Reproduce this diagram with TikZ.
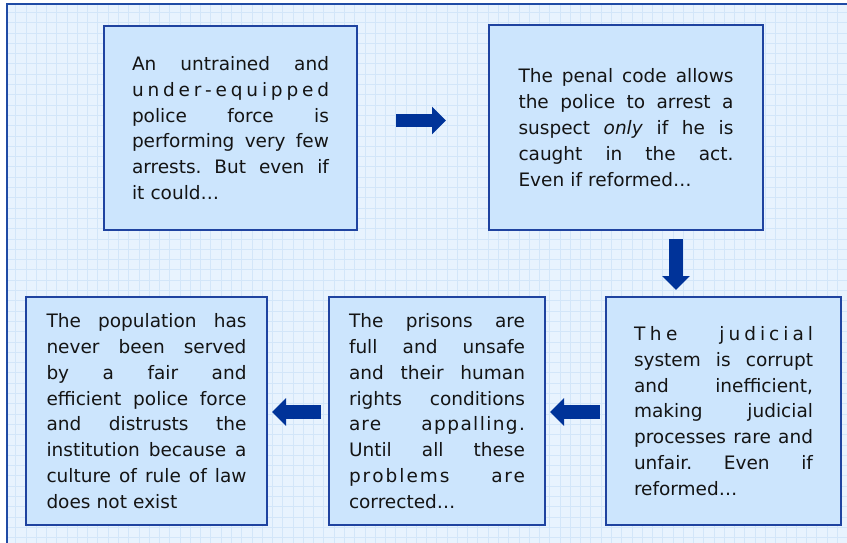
\documentclass[tikz,border=0pt]{standalone}
\usepackage{fontspec}
\setmainfont{DejaVu Sans}
\usetikzlibrary{arrows.meta}
\definecolor{bgblue}{HTML}{E8F3FE}
\definecolor{gridblue}{HTML}{D3E6F9}
\definecolor{boxfill}{HTML}{CCE5FD}
\definecolor{boxline}{HTML}{1F43A0}
\definecolor{arrowblue}{HTML}{003399}
\definecolor{framec}{HTML}{1F4BA5}
\definecolor{txt}{HTML}{141414}
\frenchspacing
\newcommand\jline[1]{\makebox[\linewidth][s]{\spaceskip=0pt \xspaceskip=0pt #1}}
\begin{document}
\begin{tikzpicture}[x=1pt,y=-1pt,
  box/.style={draw=boxline, line width=1.8pt, fill=boxfill, inner sep=0pt,
    align=left, text=txt, font=\fontsize{18.5}{25.8}\selectfont\frenchspacing},
  blockarrow/.style={draw=arrowblue, line width=13.5pt,
    -{Triangle[length=14pt,width=27pt]}}]
\useasboundingbox (0,0) rectangle (847,542);
\begin{scope}
\clip (0,0) rectangle (847,542);
\fill[bgblue] (7,4) rectangle (860,560);
\begin{scope}
\clip (7,4) rectangle (860,560);
\foreach \i in {0,...,84} {
  \draw[gridblue, line width=0.7pt] (5.4+10.27*\i,0) -- (5.4+10.27*\i,560);
}
\foreach \j in {0,...,54} {
  \draw[gridblue, line width=0.7pt] (0,2+10.3*\j) -- (860,2+10.3*\j);
}
\end{scope}
\draw[framec, line width=2.5pt] (7,560) -- (7,4) -- (860,4);
\end{scope}

\node[box, text width=197pt, minimum width=253pt, minimum height=204pt] (b1) at (230.5,128) {%
\jline{An untrained and}\\
\jline{u\hfil n\hfil d\hfil e\hfil r\hfil -\hfil e\hfil q\hfil u\hfil i\hfil p\hfil p\hfil e\hfil d}\\
\jline{police force is}\\
\jline{performing very few}\\
\jline{arrests. But even if}\\
it could…};

\node[box, text width=215pt, minimum width=274pt, minimum height=205pt] (b2) at (626,127.5) {%
\jline{The penal code allows}\\
\jline{the police to arrest a}\\
\jline{suspect \textit{only} if he is}\\
\jline{caught in the act.}\\
Even if reformed…};

\node[box, text width=179pt, minimum width=235pt, minimum height=228pt] (b3) at (723.5,411) {%
\jline{T\kern4.5pt h\kern4.5pt e\hfill j\kern4pt u\kern4pt d\kern4pt i\kern4pt c\kern4pt i\kern4pt a\kern4pt l}\\
\jline{system is corrupt}\\
\jline{and inefficient,}\\
\jline{making judicial}\\
\jline{processes rare and}\\
\jline{unfair. Even if}\\
reformed…};

\node[box, text width=176pt, minimum width=216pt, minimum height=228pt] (b4) at (437,411) {%
\jline{The prisons are}\\
\jline{full and unsafe}\\
\jline{and their human}\\
\jline{rights conditions}\\
\jline{a\kern1pt r\kern1pt e\hfill a\kern1.4pt p\kern1.4pt p\kern1.4pt a\kern1.4pt l\kern1.4pt l\kern1.4pt i\kern1.4pt n\kern1.4pt g\kern1.4pt .}\\
\jline{Until all these}\\
\jline{p\kern2pt r\kern2pt o\kern2pt b\kern2pt l\kern2pt e\kern2pt m\kern2pt s\hfill a\kern1.6pt r\kern1.6pt e}\\
corrected…};

\node[box, text width=200pt, minimum width=241pt, minimum height=228pt] (b5) at (146.5,411) {%
\jline{The population has}\\
\jline{never been served}\\
\jline{by a fair and}\\
\jline{efficient police force}\\
\jline{and distrusts the}\\
\jline{institution because a}\\
\jline{culture of rule of law}\\
does not exist};

\coordinate (a1s) at (396,120.5);
\coordinate (a1e) at (446,120.5);
\coordinate (a2s) at (676,239);
\coordinate (a2e) at (676,290);
\coordinate (a3s) at (600,412);
\coordinate (a3e) at (550,412);
\coordinate (a4s) at (321,412);
\coordinate (a4e) at (272,412);
\draw[blockarrow] (a1s) -- (a1e);
\draw[blockarrow] (a2s) -- (a2e);
\draw[blockarrow] (a3s) -- (a3e);
\draw[blockarrow] (a4s) -- (a4e);
\end{tikzpicture}
\end{document}
